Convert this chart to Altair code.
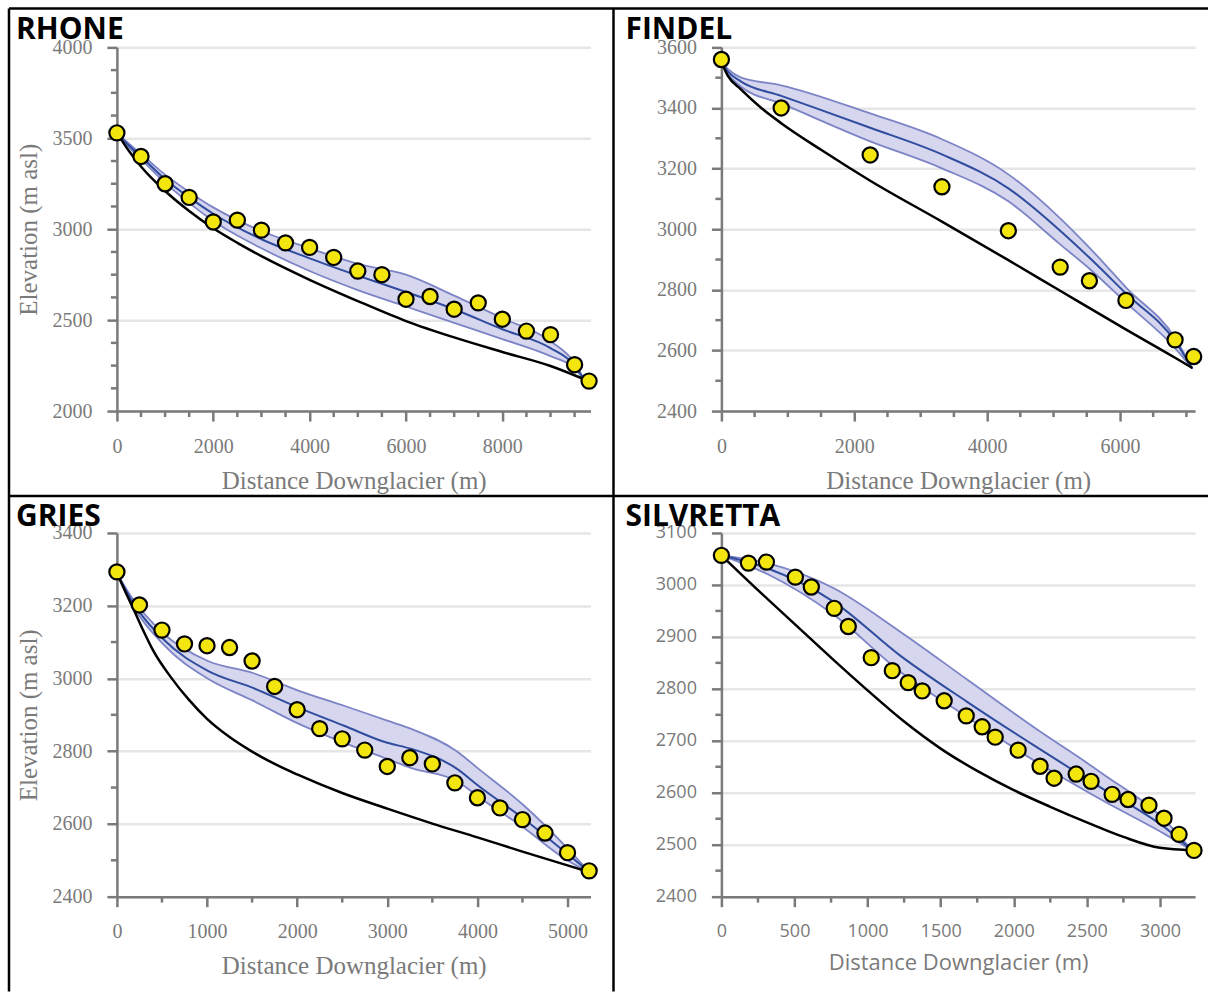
import altair as alt
import pandas as pd

# ---------------- Rhone ----------------
rh_obs_x = [0, 500, 1000, 1500, 2000, 2500, 3000, 3500, 4000, 4500, 5000,
            5500, 6000, 6500, 7000, 7500, 8000, 8500, 9000, 9500, 9800]
rh_obs_z = [3530, 3400, 3250, 3175, 3040, 3050, 2995, 2925, 2900, 2845, 2770,
            2750, 2615, 2630, 2560, 2595, 2505, 2440, 2420, 2255, 2165]
rh_mod_x = [0, 250, 500, 1000, 1500, 2000, 2500, 3000, 4000, 5000, 6000, 7000, 8000, 9000, 9500, 9700]
rh_mod_lo = [3530, 3450, 3385, 3255, 3145, 3045, 2965, 2895, 2770, 2665, 2575, 2485, 2396, 2302, 2235, 2172]
rh_mod_mid = [3530, 3460, 3400, 3275, 3175, 3085, 3010, 2945, 2840, 2745, 2655, 2560, 2450, 2346, 2250, 2172]
rh_mod_hi = [3530, 3470, 3415, 3300, 3205, 3120, 3050, 2990, 2895, 2810, 2750, 2635, 2511, 2384, 2265, 2172]
rh_prof_x = [0, 250, 500, 1000, 1500, 2000, 2500, 3000, 4000, 5000, 6000, 7000, 8000, 9000, 9700]
rh_prof_z = [3530, 3430, 3345, 3210, 3100, 3005, 2925, 2852, 2722, 2605, 2495, 2405, 2325, 2248, 2175]

# ---------------- Findel ----------------
fi_obs_x = [0, 900, 2240, 3320, 4320, 5100, 5540, 6090, 6830, 7110]
fi_obs_z = [3560, 3400, 3245, 3140, 2995, 2875, 2830, 2765, 2635, 2580]
fi_mod_x = [0, 100, 290, 900, 2240, 3320, 4320, 5100, 5550, 6100, 6830, 7090]
fi_mod_lo = [3552, 3512, 3471, 3415, 3290, 3201, 3092, 2950, 2868, 2756, 2608, 2540]
fi_mod_mid = [3552, 3520, 3488, 3440, 3335, 3247, 3135, 2995, 2904, 2786, 2631, 2540]
fi_mod_hi = [3552, 3528, 3501, 3475, 3382, 3297, 3181, 3036, 2937, 2806, 2641, 2540]
fi_prof_x = [0, 100, 290, 600, 900, 1500, 2240, 3320, 4320, 5100, 6100, 6830, 7090]
fi_prof_z = [3552, 3505, 3462, 3400, 3350, 3262, 3160, 3025, 2898, 2797, 2668, 2576, 2542]

# ---------------- Gries ----------------
gr_obs_x = [0, 250, 500, 750, 1000, 1250, 1500, 1750, 2000, 2250, 2500,
            2750, 3000, 3250, 3500, 3750, 4000, 4250, 4500, 4750, 5000, 5240]
gr_obs_z = [3293, 3202, 3133, 3095, 3090, 3085, 3048, 2978, 2914, 2862, 2834,
            2803, 2758, 2782, 2765, 2713, 2672, 2644, 2612, 2575, 2521, 2471]
gr_mod_x = [0, 150, 510, 1010, 1510, 2020, 2520, 3000, 3260, 3770, 4010, 4510, 5010, 5240]
gr_mod_lo = [3290, 3212, 3095, 2999, 2939, 2875, 2823, 2779, 2754, 2718, 2675, 2590, 2498, 2468]
gr_mod_mid = [3290, 3220, 3109, 3021, 2974, 2919, 2870, 2823, 2807, 2752, 2705, 2615, 2515, 2468]
gr_mod_hi = [3290, 3228, 3125, 3048, 3015, 2966, 2925, 2884, 2862, 2800, 2752, 2652, 2530, 2468]
gr_prof_x = [0, 100, 200, 300, 400, 600, 800, 1000, 1250, 1500, 1750, 2000,
             2500, 3000, 3500, 4000, 4500, 5000, 5240]
gr_prof_z = [3290, 3235, 3182, 3128, 3078, 3003, 2941, 2889, 2839, 2799, 2765, 2736,
             2685, 2642, 2601, 2563, 2524, 2486, 2468]

# ---------------- Silvretta ----------------
si_obs_x = [0, 185, 308, 506, 615, 772, 868, 1025, 1169, 1278, 1374, 1524, 1675,
            1784, 1873, 2030, 2180, 2276, 2427, 2529, 2673, 2782, 2925, 3028, 3131, 3233]
si_obs_z = [3057, 3042, 3044, 3015, 2996, 2955, 2920, 2860, 2835, 2812, 2796, 2777, 2748,
            2727, 2707, 2682, 2651, 2628, 2636, 2622, 2597, 2587, 2576, 2551, 2520, 2489]
si_mod_x = [0, 314, 766, 1223, 1681, 2133, 2590, 3048, 3220]
si_mod_lo = [3057, 3021, 2943, 2833, 2746, 2663, 2588, 2518, 2489]
si_mod_mid = [3057, 3032, 2968, 2864, 2775, 2692, 2611, 2530, 2489]
si_mod_hi = [3057, 3042, 2994, 2910, 2818, 2727, 2640, 2543, 2489]
si_prof_x = [0, 250, 500, 750, 1000, 1250, 1500, 1750, 2000, 2250, 2500, 2750, 3000, 3233]
si_prof_z = [3057, 2990, 2925, 2860, 2797, 2737, 2685, 2642, 2605, 2573, 2543, 2515, 2494, 2489]

# ---------------- styling ----------------
W, H = 474, 364
GREY = "#7a7a7a"
GRID = "#e6e6e6"
BAND = "#d6d6ee"
EDGE = "#7c84c6"
BLUE = "#2f4c9e"
YELLOW = "#f3e60f"
SERIF = "Liberation Serif"
SANS = "Open Sans"


def frame_rule(x0, x1, y0, y1):
    return alt.Chart(pd.DataFrame({"k": [0]})).mark_rule(
        color="black", strokeWidth=2.5
    ).encode(x=alt.value(x0), x2=alt.value(x1), y=alt.value(y0), y2=alt.value(y1))


def panel(name, obs_x, obs_z, mod_x, lo, mid, hi, prof_x, prof_z,
          xmax, ydom, xmajor, xminor, ymajor, yminor,
          font, lab_size, ttl_size, ytitle, name_x, name_y,
          xlab_pad=15, xttl_pad=12, extra=()):
    xs = alt.Scale(domain=[0, xmax], nice=False, zero=False)
    ys = alt.Scale(domain=ydom, nice=False, zero=False)
    common = dict(domainColor=GREY, domainWidth=2.5, tickColor=GREY, tickWidth=2.5,
                  tickSize=10, labelFont=font, labelFontSize=lab_size, labelColor=GREY,
                  labelFlush=False, labelOverlap=False, format="d", titleFont=font,
                  titleFontSize=ttl_size, titleColor=GREY, titleFontWeight="normal")
    xaxis = alt.Axis(values=xmajor, title="Distance Downglacier (m)", grid=False,
                     labelPadding=xlab_pad, titlePadding=xttl_pad, **common)
    yaxis = alt.Axis(values=ymajor, title=ytitle, grid=True, gridColor=GRID,
                     gridWidth=2.5, labelPadding=15, titlePadding=10, **common)

    band = pd.DataFrame({"d": mod_x, "lo": lo, "mid": mid, "hi": hi})
    obs = pd.DataFrame({"d": obs_x, "z": obs_z})
    prof = pd.DataFrame({"d": prof_x, "z": prof_z})

    # every layer carries the same axis definition so the shared axes merge cleanly
    def X(f):
        return alt.X(f, scale=xs, axis=xaxis)

    def Y(f):
        return alt.Y(f, scale=ys, axis=yaxis)

    area = alt.Chart(band).mark_area(color=BAND, opacity=1, interpolate="monotone").encode(
        x=X("d:Q"), y=Y("lo:Q"), y2="hi:Q")
    edges = [
        alt.Chart(band).mark_line(color=EDGE, strokeWidth=1.8, interpolate="monotone")
        .encode(x=X("d:Q"), y=Y(f"{c}:Q"))
        for c in ("lo", "hi")
    ]
    midline = alt.Chart(band).mark_line(color=BLUE, strokeWidth=2, interpolate="monotone").encode(
        x=X("d:Q"), y=Y("mid:Q"))
    profline = alt.Chart(prof).mark_line(color="black", strokeWidth=2.5, interpolate="monotone").encode(
        x=X("d:Q"), y=Y("z:Q"))
    xminor_ticks = alt.Chart(pd.DataFrame({"v": xminor})).mark_rule(
        color=GREY, strokeWidth=2.5).encode(x=X("v:Q"), y=alt.value(H), y2=alt.value(H + 6))
    yminor_ticks = alt.Chart(pd.DataFrame({"v": yminor})).mark_rule(
        color=GREY, strokeWidth=2.5).encode(y=Y("v:Q"), x=alt.value(-6), x2=alt.value(0))
    points = alt.Chart(obs).mark_circle(
        size=230, color=YELLOW, opacity=1, stroke="black", strokeWidth=2.2
    ).encode(x=X("d:Q"), y=Y("z:Q"))
    label = alt.Chart(pd.DataFrame({"t": [name]})).mark_text(
        align="left", baseline="alphabetic", font=SANS, fontWeight="bold",
        fontSize=30, color="black"
    ).encode(x=alt.value(name_x), y=alt.value(name_y), text="t:N")

    return alt.layer(area, *edges, midline, profline, xminor_ticks, yminor_ticks,
                     points, label, *extra).properties(width=W, height=H)


def minor(start, stop, step, major_step):
    return [v for v in range(start, stop + 1, step) if v % major_step != 0]


frames = [
    frame_rule(-108, 1092, -39, -39),   # top edge
    frame_rule(-108, -108, -39, 945),   # left edge
    frame_rule(-108, 1092, 449, 449),   # row divider
    frame_rule(497, 497, -39, 945),     # column divider
]

rhone = panel("RHONE", rh_obs_x, rh_obs_z, rh_mod_x, rh_mod_lo, rh_mod_mid, rh_mod_hi,
              rh_prof_x, rh_prof_z, 9830, [2000, 4000],
              [0, 2000, 4000, 6000, 8000], minor(0, 9500, 500, 2000),
              [2000, 2500, 3000, 3500, 4000], minor(2000, 4000, 125, 500),
              SERIF, 20, 25, "Elevation (m asl)", -101, -8, extra=frames)

findel = panel("FINDEL", fi_obs_x, fi_obs_z, fi_mod_x, fi_mod_lo, fi_mod_mid, fi_mod_hi,
               fi_prof_x, fi_prof_z, 7130, [2400, 3600],
               [0, 2000, 4000, 6000], minor(0, 7000, 500, 2000),
               [2400, 2600, 2800, 3000, 3200, 3400, 3600], minor(2400, 3600, 100, 200),
               SERIF, 20, 25, "", -96, -8)

gries = panel("GRIES", gr_obs_x, gr_obs_z, gr_mod_x, gr_mod_lo, gr_mod_mid, gr_mod_hi,
              gr_prof_x, gr_prof_z, 5255, [2400, 3400],
              [0, 1000, 2000, 3000, 4000, 5000], minor(0, 5000, 500, 1000),
              [2400, 2600, 2800, 3000, 3200, 3400], minor(2400, 3400, 100, 200),
              SERIF, 20, 25, "Elevation (m asl)", -101, -7)

silvretta = panel("SILVRETTA", si_obs_x, si_obs_z, si_mod_x, si_mod_lo, si_mod_mid, si_mod_hi,
                  si_prof_x, si_prof_z, 3240, [2400, 3100],
                  [0, 500, 1000, 1500, 2000, 2500, 3000], minor(0, 3000, 250, 500),
                  [2400, 2500, 2600, 2700, 2800, 2900, 3000, 3100], minor(2400, 3100, 50, 100),
                  SANS, 18, 22, "", -96, -7, xlab_pad=16, xttl_pad=12)

chart = alt.concat(
    rhone, findel, gries, silvretta,
    columns=2, spacing={"row": 122, "column": 131}, bounds="flush",
).properties(
    padding={"left": 7, "top": 6, "right": 0, "bottom": 0},
).configure_view(stroke="transparent")

chart.save("out.html", embed_options={"renderer": "svg", "actions": False})
